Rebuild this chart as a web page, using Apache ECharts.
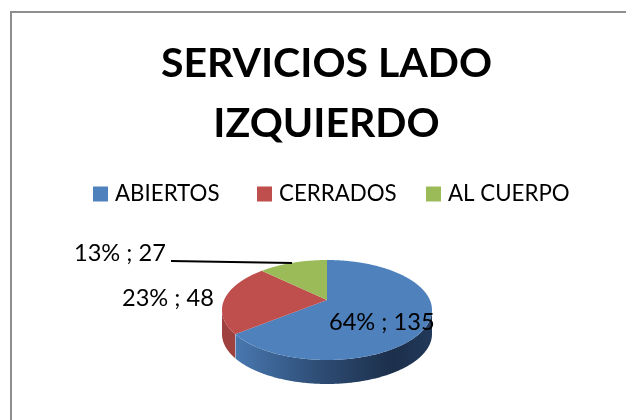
<!DOCTYPE html>
<html>
<head>
<meta charset="utf-8">
<style>html,body{margin:0;padding:0;background:#fff;overflow:hidden}#c{width:626px;height:420px}</style>
<script src="https://cdn.jsdelivr.net/npm/echarts@6/dist/echarts.min.js"></script>
</head>
<body>
<div id="c"></div>
<script>
const titleText = 'SERVICIOS LADO\nIZQUIERDO';
const categories = ['ABIERTOS', 'CERRADOS', 'AL CUERPO'];
const values = [135, 48, 27];
const colors = ['#4F81BD', '#BE4F4C', '#9BBB59'];

// pie geometry (projected 3D disc)
const CX = 327, CY = 310, RX = 105, RY = 50, DEPTH = 24, TILT = 0.2;
const total = values.reduce((a, b) => a + b, 0);
function project(deg) {
  const t = deg * Math.PI / 180, u = Math.sin(t), v = Math.cos(t);
  const den = 1 + TILT * v;
  const up = u * Math.sqrt(1 - TILT * TILT) / den, vp = (v + TILT) / den;
  return { x: CX + RX * up, y: CY - RY * vp, front: vp <= 0.001 };
}
const apex = [CX, CY - RY * TILT];
const labelPlace = [
  { x: 329, y: 322 },
  { x: 122, y: 298 },
  { x: 74, y: 253 }
];
const legendLeft = [88, 252, 421];
function renderSlice(idx) {
  return function (params, api) {
    const start = values.slice(0, idx).reduce((a, b) => a + b, 0) / total * 360;
    const end = start + values[idx] / total * 360;
    const top = [apex], rim = [];
    for (let d = start; d <= end + 1e-6; d += 0.5) {
      const p = project(d);
      top.push([p.x, p.y]);
      if (p.front) rim.push([p.x, p.y]);
    }
    const e = project(end);
    top.push([e.x, e.y]);
    const children = [];
    if (rim.length > 1) {
      const wallPts = rim.concat(rim.slice().reverse().map(p => [p[0], p[1] + DEPTH]));
      children.push({
        type: 'polygon', shape: { points: wallPts },
        style: {
          fill: idx === 0 ? {
            type: 'linear', x: 0, y: 0, x2: 1, y2: 0,
            colorStops: [
              { offset: 0, color: '#4878B0' },
              { offset: 0.4, color: '#2F4F78' },
              { offset: 0.8, color: '#1C2F4B' },
              { offset: 1, color: '#22395A' }
            ]
          } : '#9F413F'
        }
      });
    }
    children.push({ type: 'polygon', shape: { points: top }, style: { fill: api.visual('color') } });
    const pct = Math.round(values[idx] / total * 100);
    children.push({
      type: 'text', z2: 50,
      style: {
        text: pct + '% ; ' + values[idx], x: labelPlace[idx].x, y: labelPlace[idx].y,
        fill: '#000', font: '23.6px Lato', verticalAlign: 'middle'
      }
    });
    return { type: 'group', children };
  };
}
const chart = echarts.init(document.getElementById('c'), null, { renderer: 'canvas' });
chart.setOption({
  animation: false,
  color: colors,
  title: {
    text: titleText, left: 321.5, top: 29, textAlign: 'center',
    textStyle: { fontFamily: 'Lato', fontWeight: 'bold', fontSize: 41, lineHeight: 60, color: '#000' }
  },
  legend: categories.map((name, i) => ({
    data: [name], left: legendLeft[i], top: 178, itemWidth: 15, itemHeight: 15,
    icon: 'rect',
    textStyle: { fontFamily: 'Lato', fontSize: 22.3, color: '#000', padding: [0, 0, 0, 2] }
  })),
  graphic: [
    { type: 'polyline', shape: { points: [[11, 421], [11, 12], [627, 12]] }, style: { stroke: '#8E8E8E', lineWidth: 2, fill: null }, z: -1 },
    { type: 'line', shape: { x1: 171, y1: 261, x2: 292, y2: 263 }, style: { stroke: '#000', lineWidth: 2 }, z: 20 }
  ],
  series: categories.map((name, i) => ({
    type: 'custom', name, coordinateSystem: 'none', renderItem: renderSlice(i),
    data: [values[i]], silent: true, z: 5
  }))
});
</script>
</body>
</html>
